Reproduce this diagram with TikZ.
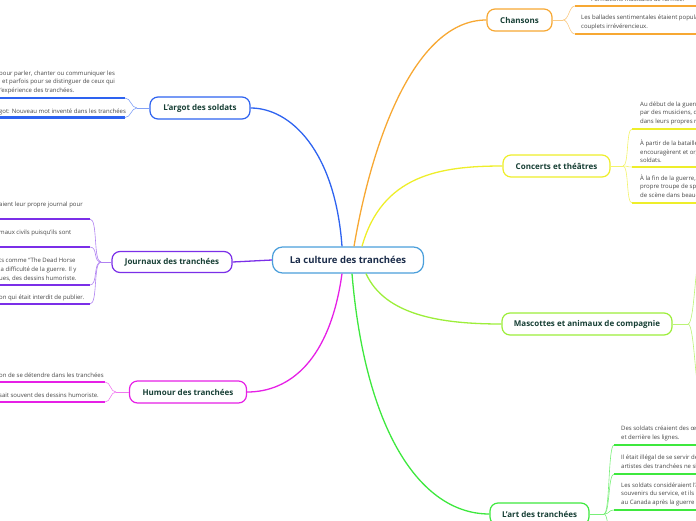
\documentclass[tikz,border=0pt]{standalone}
\usepackage{fontspec}
\setmainfont{Open Sans}
\definecolor{cCenter}{HTML}{4B9FDB}
\definecolor{cBlue}{HTML}{2E63F0}
\definecolor{cPurple}{HTML}{7B2FE8}
\definecolor{cMagenta}{HTML}{E620E6}
\definecolor{cOrange}{HTML}{F7A833}
\definecolor{cYellow}{HTML}{EEEE2A}
\definecolor{cLime}{HTML}{9CEE3A}
\definecolor{cGreen}{HTML}{3EE83E}
\definecolor{cTopic}{HTML}{173F35}
\definecolor{cCtext}{HTML}{1B2C4A}
\definecolor{cItem}{HTML}{454545}
\begin{document}
\begin{tikzpicture}[x=1pt,y=-1pt,
  topic/.style={draw, rounded corners=8pt, line width=1.2pt, fill=white, text=cTopic,
    font=\fontsize{8.0}{9}\bfseries\selectfont, minimum height=22pt, inner sep=0pt},
  centre/.style={topic, rounded corners=10pt, minimum height=26pt, text=cCtext,
    font=\fontsize{9.5}{11}\bfseries\selectfont},
  item/.style={inner sep=0pt, align=left, text=cItem, font=\fontsize{6.0}{8.6}\selectfont},
  uline/.style={line width=2.4pt},
  brk/.style={line width=0.6pt},
  conn/.style={line width=1.3pt}]
\useasboundingbox (0,0) rectangle (696,520);

% ---------- nodes ----------
\node[centre, draw=cCenter, minimum width=151pt] (c) at (348,260) {La culture des tranchées};
\node[topic, draw=cBlue, minimum width=100pt] (argot) at (200,108) {L'argot des soldats};
\node[topic, draw=cPurple, minimum width=120pt, minimum height=21pt] (journ) at (172,262) {Journaux des tranchées};
\node[topic, draw=cMagenta, minimum width=117pt] (humour) at (188,392) {Humour des tranchées};
\node[topic, draw=cOrange, minimum width=65pt] (chans) at (519.5,20) {Chansons};
\node[topic, draw=cYellow, minimum width=107pt] (conc) at (556.5,166) {Concerts et théâtres};
\node[topic, draw=cLime, minimum width=170pt] (masc) at (587,324) {Mascottes et animaux de compagnie};
\node[topic, draw=cGreen, minimum width=99pt] (art) at (539.5,514) {L'art des tranchées};

% ---------- main connectors ----------
\draw[conn, cBlue] ([xshift=-6pt]c.north) .. controls (335,150) and (290,108) .. (argot.east);
\draw[conn, cOrange] ([xshift=6pt]c.north) .. controls (372,140) and (415,20) .. (chans.west);
\draw[conn, cYellow] ([xshift=14pt]c.north) .. controls (382,175) and (440,166) .. (conc.west);
\draw[conn, cLime] ([xshift=18pt]c.south) .. controls (385,315) and (440,324) .. (masc.west);
\draw[conn, cGreen] ([xshift=4pt]c.south) .. controls (365,430) and (420,514) .. (art.west);
\draw[conn, cMagenta] ([xshift=-6pt]c.south) .. controls (330,360) and (290,392) .. (humour.east);
\draw[conn, cPurple] (c.west) -- (journ.east);

% ---------- L'argot des soldats ----------
\coordinate (jA) at (137,108);
\coordinate (a1) at (125,98);
\coordinate (a2) at (125,117.5);
\draw[uline, cBlue] (0,98) -- (a1);
\draw[uline, cBlue] (0,117.5) -- (a2);
\draw[brk, cBlue!60] (argot.west) -- (jA);
\draw[brk, cBlue!60] (jA) .. controls +(-6,0) and +(6,0) .. (a1);
\draw[brk, cBlue!60] (jA) .. controls +(-6,0) and +(6,0) .. (a2);
\node[item, anchor=south west] (ta1) at (-1,94) {pour parler, chanter ou communiquer les\\\hspace{3pt}et parfois pour se distinguer de ceux qui\\l'expérience des tranchées.};
\node[item, anchor=base west] (ta2) at (-1,113) {got: Nouveau mot inventé dans les tranchées};

% ---------- Journaux des tranchées ----------
\coordinate (jJ) at (101,262);
\coordinate (j1) at (90,219);
\coordinate (j2) at (90,247);
\coordinate (j3) at (90,285);
\coordinate (j4) at (90,304);
\foreach \p/\yy in {j1/219,j2/247,j3/285,j4/304}{
  \draw[uline, cPurple] (0,\yy) -- (\p);
  \draw[brk, cPurple!60] (jJ) .. controls +(-8,0) and +(8,0) .. (\p);
}
\draw[brk, cPurple!60] (journ.west) -- (jJ);
\node[item, anchor=base west] (tj1) at (-1,206) {aient leur propre journal pour};
\node[item, anchor=base west] (tj2) at (-1,234) {maux civils puisqu'ils sont};
\node[item, anchor=south west] (tj3) at (-1,281) {ts comme “The Dead Horse\\la difficulté de la guerre. Il y\\ues, des dessins humoriste.};
\node[item, anchor=base west] (tj4) at (-1,299.5) {on qui était interdit de publier.};

% ---------- Humour des tranchées ----------
\coordinate (jH) at (116,392);
\coordinate (h1) at (105,382);
\coordinate (h2) at (105,402);
\draw[uline, cMagenta] (0,382) -- (h1);
\draw[uline, cMagenta] (0,402) -- (h2);
\draw[brk, cMagenta!60] (humour.west) -- (jH);
\draw[brk, cMagenta!60] (jH) .. controls +(-6,0) and +(6,0) .. (h1);
\draw[brk, cMagenta!60] (jH) .. controls +(-6,0) and +(6,0) .. (h2);
\node[item, anchor=base west] (th1) at (-1,377) {on de se détendre dans les tranchées};
\node[item, anchor=base west] (th2) at (-1,397) {sait souvent des dessins humoriste.};

% ---------- Chansons ----------
\coordinate (jC) at (563,20);
\coordinate (ch1) at (575,6);
\coordinate (ch2) at (575,34);
\draw[uline, cOrange] (ch1) -- (696,6);
\draw[uline, cOrange] (ch2) -- (696,34);
\draw[brk, cOrange!60] (chans.east) -- (jC);
\draw[brk, cOrange!60] (jC) .. controls +(6,0) and +(-6,0) .. (ch1);
\draw[brk, cOrange!60] (jC) .. controls +(6,0) and +(-6,0) .. (ch2);
\node[item, anchor=base west] (tc1) at (591,1) {Formations musicales de l'armée.};
\node[item, anchor=south west] (tc2) at (581,30) {Les ballades sentimentales étaient populaires\\couplets irrévérencieux.};

% ---------- Concerts et théâtres ----------
\coordinate (jK) at (623,166);
\coordinate (k1) at (632,129);
\coordinate (k2) at (632,167);
\coordinate (k3) at (632,203);
\foreach \p/\yy in {k1/129,k2/167,k3/203}{
  \draw[uline, cYellow] (\p) -- (696,\yy);
  \draw[brk, cYellow!70] (jK) .. controls +(6,0) and +(-6,0) .. (\p);
}
\draw[brk, cYellow!70] (conc.east) -- (jK);
\node[item, anchor=south west] (tk1) at (640,125) {Au début de la guerre,\\par des musiciens, des\\dans leurs propres rangs};
\node[item, anchor=south west] (tk2) at (640,163) {À partir de la bataille\\encouragèrent et organisèrent\\soldats.};
\node[item, anchor=south west] (tk3) at (640,199) {À la fin de la guerre,\\propre troupe de spectacle\\de scène dans beaucoup};

% ---------- Mascottes ----------
\coordinate (jM) at (688,324);
\coordinate (m1) at (702,250);
\coordinate (m2) at (702,400);
\draw[brk, cLime!70] (masc.east) -- (jM);
\draw[brk, cLime!70] (jM) .. controls +(7,0) and +(-7,0) .. (m1);
\draw[brk, cLime!70] (jM) .. controls +(7,0) and +(-7,0) .. (m2);

% ---------- L'art des tranchées ----------
\coordinate (jR) at (604,514);
\coordinate (r1) at (614,445);
\coordinate (r2) at (614,474);
\coordinate (r3) at (614,510);
\coordinate (r4) at (614,560);
\foreach \p/\yy in {r1/445,r2/474,r3/510}{
  \draw[uline, cGreen] (\p) -- (696,\yy);
}
\foreach \p in {r1,r2,r3,r4}{
  \draw[brk, cGreen!70] (jR) .. controls +(6,0) and +(-6,0) .. (\p);
}
\draw[brk, cGreen!70] (art.east) -- (jR);
\node[item, anchor=south west] (tr1) at (621,441) {Des soldats créaient des œuvres\\et derrière les lignes.};
\node[item, anchor=south west] (tr2) at (621,470) {Il était illégal de se servir de\\artistes des tranchées ne signaient};
\node[item, anchor=south west] (tr3) at (621,506) {Les soldats considéraient l'art\\souvenirs du service, et ils les\\au Canada après la guerre};
\end{tikzpicture}
\end{document}
